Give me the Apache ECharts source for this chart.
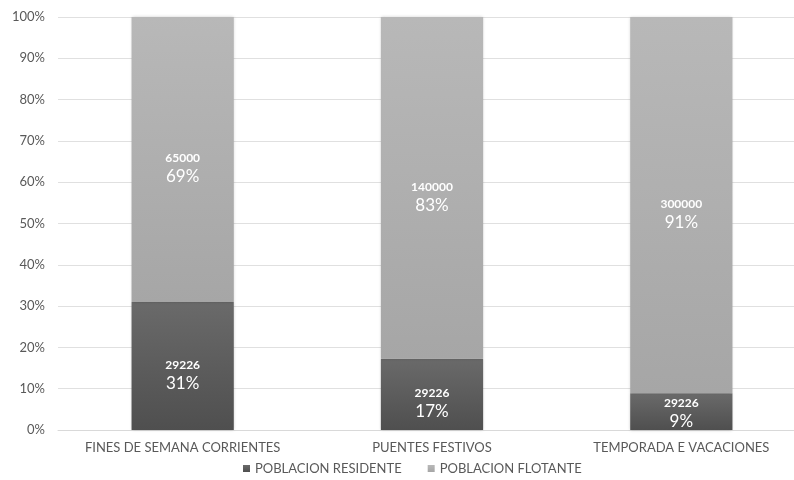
<!DOCTYPE html>
<html><head><meta charset="utf-8">
<script src="https://cdn.jsdelivr.net/npm/echarts@6/dist/echarts.min.js"></script>
<style>html,body{margin:0;padding:0;background:#fff;overflow:hidden}#c{width:806px;height:480px}</style>
</head><body><div id="c"></div>
<script>
const categories = ['FINES DE SEMANA CORRIENTES', 'PUENTES FESTIVOS', 'TEMPORADA E VACACIONES'];
const residente = [29226, 29226, 29226];
const flotante = [65000, 140000, 300000];
const seriesNames = ['POBLACION RESIDENTE', 'POBLACION FLOTANTE'];
const yTicks = [0, 10, 20, 30, 40, 50, 60, 70, 80, 90, 100];

const totals = categories.map((c, i) => residente[i] + flotante[i]);
function pctData(arr) {
  return arr.map((v, i) => {
    const pct = v / totals[i] * 100;
    return { value: pct, raw: v, label: { offset: [0, pct < 12 ? 1 : 9] } };
  });
}
const font = 'Lato, "Open Sans", sans-serif';
function lbl() {
  return {
    show: true, position: 'inside',
    formatter: p => '{a|' + p.data.raw + '}\n{b|' + Math.round(p.data.value) + '%}',
    rich: {
      a: { color: '#fff', fontSize: 12, fontWeight: 'bold', fontFamily: font, lineHeight: 17 },
      b: { color: '#fff', fontSize: 17, fontFamily: font, lineHeight: 20 }
    }
  };
}
const chart = echarts.init(document.getElementById('c'));
chart.setOption({
  animation: false,
  grid: { left: 58, right: 0, top: 17, bottom: 50 },
  legend: {
    bottom: 0, left: 238, itemWidth: 7, itemHeight: 7, itemGap: 26, icon: 'rect',
    textStyle: { color: '#595959', fontSize: 13, fontFamily: font },
    data: seriesNames
  },
  xAxis: {
    type: 'category', data: categories,
    axisLine: { lineStyle: { color: '#d9d9d9' } }, axisTick: { show: false },
    axisLabel: { color: '#595959', fontSize: 13, fontFamily: font, margin: 11, interval: 0 }
  },
  yAxis: {
    type: 'value', min: 0, max: 100, interval: 10,
    axisLabel: { color: '#595959', fontSize: 13, fontFamily: font, margin: 13,
      formatter: v => yTicks.includes(v) ? v + '%' : '' },
    splitLine: { lineStyle: { color: '#e0e0e0' } },
    axisLine: { show: false }, axisTick: { show: false }
  },
  series: [
    { name: seriesNames[0], type: 'bar', stack: 't', barWidth: '41%',
      data: pctData(residente), label: lbl(),
      itemStyle: { color: new echarts.graphic.LinearGradient(0, 0, 0, 1, [
        { offset: 0, color: '#6a6a6a' }, { offset: 1, color: '#4f4f4f' }]),
        shadowColor: 'rgba(0,0,0,0.25)', shadowBlur: 3 } },
    { name: seriesNames[1], type: 'bar', stack: 't', barWidth: '41%',
      data: pctData(flotante), label: lbl(),
      itemStyle: { color: new echarts.graphic.LinearGradient(0, 0, 0, 1, [
        { offset: 0, color: '#b8b8b8' }, { offset: 1, color: '#a6a6a6' }]),
        shadowColor: 'rgba(0,0,0,0.2)', shadowBlur: 3 } }
  ]
});
</script></body></html>
